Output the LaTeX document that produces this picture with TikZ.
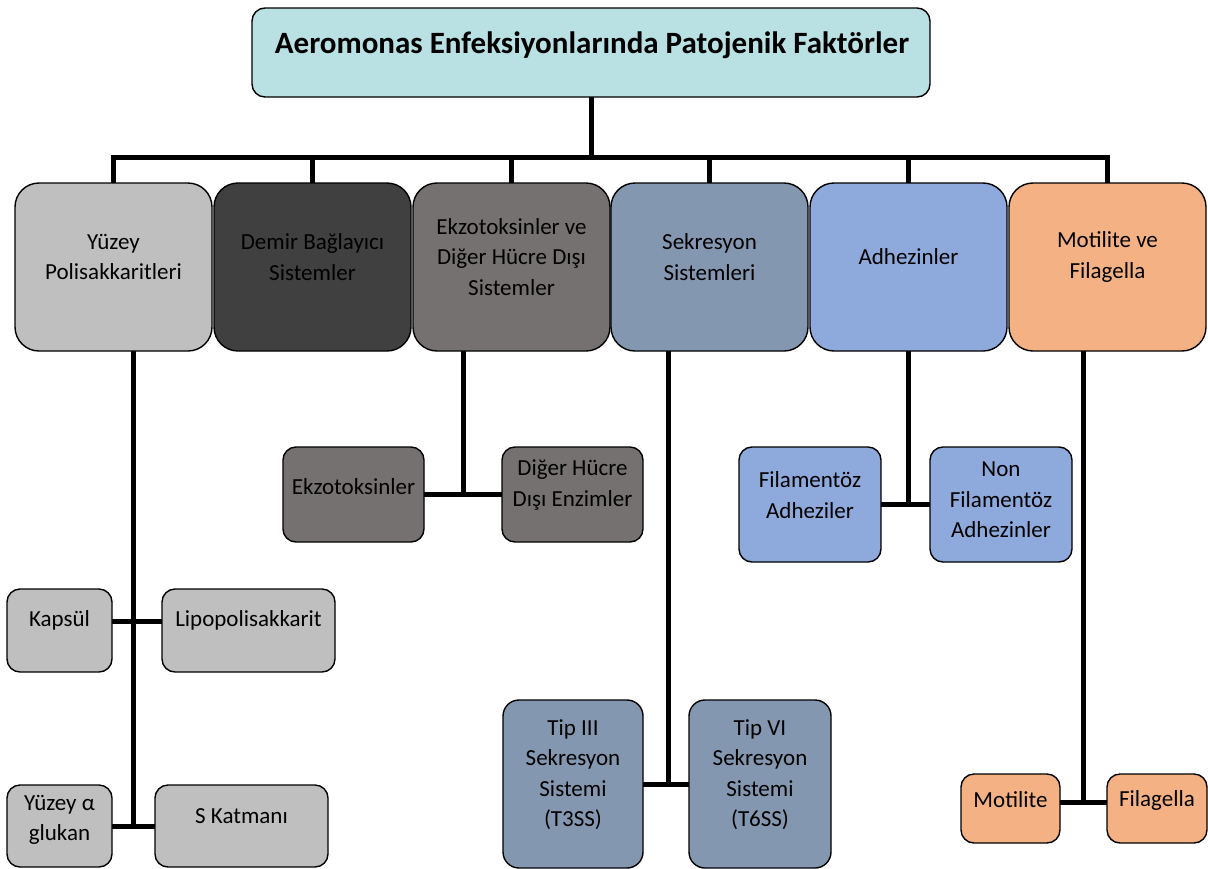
\documentclass[tikz,border=0pt]{standalone}
\usepackage{fontspec}
\setmainfont{Carlito}
\usetikzlibrary{backgrounds}
\definecolor{cTitle}{HTML}{B9E0E3}
\definecolor{cGrayL}{HTML}{BFBFBF}
\definecolor{cDark}{HTML}{404040}
\definecolor{cGrayM}{HTML}{767171}
\definecolor{cSteel}{HTML}{8497B0}
\definecolor{cBlue}{HTML}{8EA9DB}
\definecolor{cOrange}{HTML}{F4B183}
\begin{document}
\begin{tikzpicture}[x=1pt,y=-1pt,
  box/.style={draw=black, line width=1.4pt, rounded corners=#1, inner sep=0pt},
  box/.default=13pt,
  bigbox/.style={box=24pt, minimum width=197pt, minimum height=168pt},
  txt/.style={align=center, inner sep=0pt, font=\fontsize{23}{30.5}\selectfont},
  conn/.style={line width=5pt, line cap=rect, line join=miter}]
\useasboundingbox (0,0) rectangle (1208,868);

% title
\node[box=13pt, fill=cTitle, minimum width=678pt, minimum height=89pt] (title) at (591,52.5) {};
\node[inner sep=0pt, font=\fontsize{31}{36}\selectfont\bfseries] (ttitle) at (592,45) {Aeromonas Enfeksiyonlarında Patojenik Faktörler};

% level 1
\node[bigbox, fill=cGrayL]  (b1) at (113.5,267) {};
\node[bigbox, fill=cDark]   (b2) at (312.5,267) {};
\node[bigbox, fill=cGrayM]  (b3) at (511.5,267) {};
\node[bigbox, fill=cSteel]  (b4) at (709.5,267) {};
\node[bigbox, fill=cBlue]   (b5) at (908.5,267) {};
\node[bigbox, fill=cOrange] (b6) at (1107.5,267) {};
\node[txt] (t1) at (113.5,257) {Yüzey\\Polisakkaritleri};
\node[txt] (t2) at (312.5,257) {Demir Bağlayıcı\\Sistemler};
\node[txt] (t3) at (511.5,257) {Ekzotoksinler ve\\Diğer Hücre Dışı\\Sistemler};
\node[txt] (t4) at (709.5,257) {Sekresyon\\Sistemleri};
\node[txt] (t5) at (908.5,257) {Adhezinler};
\node[txt] (t6) at (1107.5,257) {Motilite ve\\Filagella};

% level 2
\node[box, fill=cGrayM, minimum width=141pt, minimum height=95pt] (ekzo) at (353.5,494.5) {};
\node[box, fill=cGrayM, minimum width=141pt, minimum height=95pt] (diger) at (572.5,494.5) {};
\node[txt] (tekzo) at (353.5,487) {Ekzotoksinler};
\node[txt] (tdiger) at (572.5,485) {Diğer Hücre\\Dışı Enzimler};

\node[box, fill=cBlue, minimum width=142pt, minimum height=115pt] (fila) at (810,504.5) {};
\node[box, fill=cBlue, minimum width=142pt, minimum height=115pt] (nonfila) at (1001,504.5) {};
\node[txt] (tfila) at (810,495) {Filamentöz\\Adheziler};
\node[txt] (tnonfila) at (1001,500) {Non\\Filamentöz\\Adhezinler};

\node[box, fill=cGrayL, minimum width=105pt, minimum height=83pt] (kapsul) at (59.5,630.5) {};
\node[box, fill=cGrayL, minimum width=173pt, minimum height=83pt] (lipo) at (248.5,630.5) {};
\node[txt] (tkapsul) at (59.5,620) {Kapsül};
\node[txt] (tlipo) at (248.5,620) {Lipopolisakkarit};

\node[box, fill=cGrayL, minimum width=105pt, minimum height=82pt] (glukan) at (59.5,826) {};
\node[box, fill=cGrayL, minimum width=173pt, minimum height=82pt] (skat) at (241.5,826) {};
\node[txt] (tglukan) at (59.5,820) {Yüzey α\\glukan};
\node[txt] (tskat) at (241.5,816) {S Katmanı};

\node[box=16pt, fill=cSteel, minimum width=140pt, minimum height=168pt] (tip3) at (573,784) {};
\node[box=16pt, fill=cSteel, minimum width=142pt, minimum height=168pt] (tip6) at (760,784) {};
\node[txt] (ttip3) at (573,774.5) {Tip III\\Sekresyon\\Sistemi\\(T3SS)};
\node[txt] (ttip6) at (760,774.5) {Tip VI\\Sekresyon\\Sistemi\\(T6SS)};

\node[box, fill=cOrange, minimum width=99pt, minimum height=69pt] (moti) at (1010.5,808.5) {};
\node[box, fill=cOrange, minimum width=100pt, minimum height=69pt] (filag) at (1157,808.5) {};
\node[txt] (tmoti) at (1010.5,800) {Motilite};
\node[txt] (tfilag) at (1157,800) {Filagella};

\coordinate (bus) at (591,157);

\begin{scope}[on background layer]
  \draw[conn] (title.south) -- (title.south |- bus);
  \draw[conn] (b1.north) -- (b1.north |- bus) -- (b6.north |- bus) -- (b6.north);
  \foreach \b in {b2,b3,b4,b5} \draw[conn] (\b.north) -- (\b.north |- bus);
  % Yüzey polisakkaritleri
  \draw[conn] ([xshift=19.5pt]b1.south) -- ([xshift=19.5pt]b1.south |- glukan.east);
  \draw[conn] ([yshift=9.5pt]kapsul.east) -- ([yshift=9.5pt]lipo.west);
  \draw[conn] (glukan.east) -- (skat.west);
  % Ekzotoksinler
  \draw[conn] ([xshift=-48.5pt]b3.south) -- ([xshift=-48.5pt]b3.south |- ekzo.east);
  \draw[conn] (ekzo.east) -- (diger.west);
  % Sekresyon
  \draw[conn] ([xshift=-41.5pt]b4.south) -- ([xshift=-41.5pt]b4.south |- tip3.east);
  \draw[conn] (tip3.east) -- (tip6.west);
  % Adhezinler
  \draw[conn] (b5.south) -- (b5.south |- fila.east);
  \draw[conn] (fila.east) -- (nonfila.west);
  % Motilite
  \draw[conn] ([xshift=-24.5pt]b6.south) -- ([xshift=-24.5pt,yshift=6.5pt]b6.south |- moti.east);
  \draw[conn] ([yshift=6.5pt]moti.east) -- ([yshift=6.5pt]filag.west);
\end{scope}
\end{tikzpicture}
\end{document}
